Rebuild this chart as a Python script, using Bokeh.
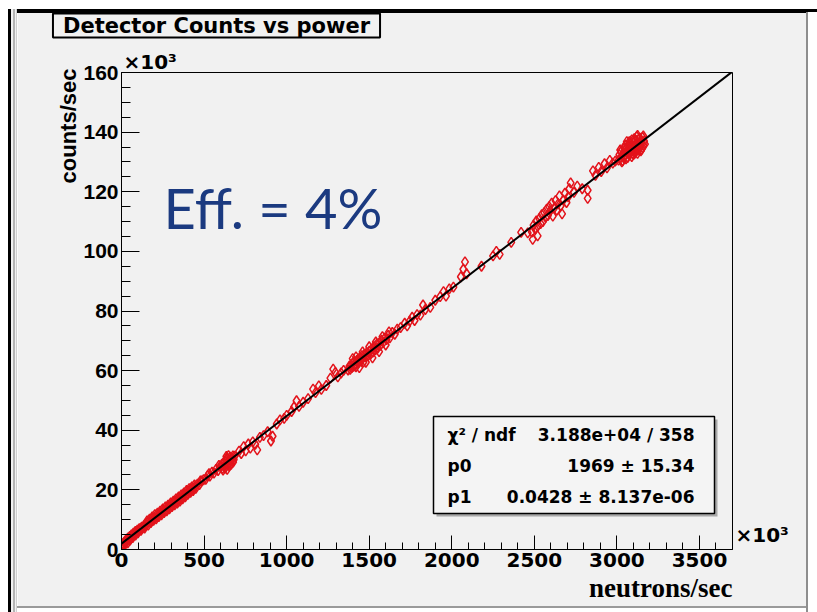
import numpy as np
from bokeh.plotting import figure
from bokeh.models import Label, BoxAnnotation, FixedTicker, Title, Div
from bokeh.layouts import row, column
from bokeh.embed import file_html
from bokeh.resources import INLINE

# ---------------- data (units of 10^3) ----------------
neutrons_A = [2, 4, 7, 10, 13, 16, 20, 24, 28, 32, 36, 40, 45, 50, 55, 60, 66, 72, 78, 84,
              90, 96, 102, 108, 115, 122, 128, 135, 142, 148, 5, 12, 25, 38, 52, 68, 85, 100, 118, 140]
counts_A = [0.4, 0.9, 1.2, 1.9, 1.6, 2.5, 2.1, 3.0, 2.7, 3.5, 3.1, 3.9, 3.6, 4.4, 4.1, 4.9, 4.6, 5.5, 5.2, 6.1,
            5.8, 6.5, 6.2, 7.0, 6.8, 7.5, 7.3, 8.0, 7.8, 8.4, 0.2, 1.1, 2.0, 2.2, 3.2, 4.0, 4.8, 5.6, 6.4, 7.2]

neutrons_B = [155, 162, 170, 178, 186, 194, 202, 210, 218, 226, 234, 242, 250, 258, 266, 274, 282, 290, 298,
              306, 314, 322, 330, 338, 346, 354, 362, 370, 378, 386, 394, 402, 410, 418, 426, 434, 442, 450,
              158, 174, 190, 206, 222, 238, 254, 270, 286, 302, 318, 334, 350, 366, 382, 398, 414, 430, 446]
counts_B = [9.6, 8.2, 10.2, 9.0, 10.9, 9.8, 11.7, 10.3, 12.2, 11.0, 12.9, 11.6, 13.6, 12.4, 14.3, 13.0, 14.9, 13.6, 15.6,
            14.4, 16.2, 15.0, 17.0, 15.6, 17.6, 16.2, 18.3, 17.0, 19.0, 17.7, 19.8, 18.5, 20.4, 19.2, 21.0, 19.8, 21.7, 20.5,
            8.9, 9.3, 10.2, 10.7, 11.6, 12.1, 12.9, 13.4, 14.3, 14.8, 15.7, 16.2, 17.1, 17.5, 18.4, 18.9, 19.8, 20.3, 21.2]

neutrons_C = [460, 472, 485, 497, 510, 522, 535, 548, 560, 572, 585, 597, 478, 530, 590]
counts_C = [21.9, 21.8, 23.0, 23.4, 23.5, 24.8, 24.6, 25.9, 25.6, 26.9, 26.5, 27.9, 23.0, 25.4, 28.2]

neutrons_D = [603, 608, 612, 617, 621, 626, 630, 634, 638, 643, 647, 651, 656, 660, 665, 670, 675, 680, 685,
              615, 628, 640, 652, 664, 676, 635, 648]
counts_D = [27.8, 28.6, 27.2, 29.0, 28.0, 29.6, 28.4, 30.2, 29.1, 30.5, 28.7, 30.0, 29.3, 31.0, 29.8, 30.6, 31.4, 30.2, 31.3,
            26.6, 27.3, 26.9, 28.1, 28.6, 29.3, 31.2, 31.5]

neutrons_E = [712, 725, 740, 752, 768, 780, 795, 810, 822, 838, 860, 885, 905, 915, 940, 960, 985, 1000]
counts_E = [33.0, 32.2, 34.5, 33.1, 35.4, 34.0, 36.1, 35.3, 33.4, 37.6, 38.2, 39.5, 36.4, 38.0, 42.1, 43.5, 44.0, 45.0]

neutrons_F = [1030, 1045, 1060, 1075, 1100, 1130, 1160, 1175, 1195, 1210, 1240, 1265, 1282, 1295, 1310, 1330, 1345]
counts_F = [46.3, 47.8, 49.9, 48.0, 49.4, 50.6, 53.8, 52.6, 54.9, 53.7, 55.0, 57.5, 60.5, 59.4, 57.9, 59.2, 60.1]

neutrons_G = [1372, 1380, 1385, 1390, 1395, 1400, 1405, 1410, 1415, 1420, 1425, 1430, 1435, 1440, 1445, 1450,
              1455, 1460, 1465, 1470, 1478, 1485, 1492, 1500, 1508, 1515, 1522, 1530, 1538, 1545, 1552, 1560,
              1568, 1575, 1585, 1595, 1605, 1615, 1625, 1640, 1655, 1670, 1690,
              1400, 1420, 1440, 1460, 1480, 1500, 1520, 1540, 1560, 1580, 1600, 1620]
counts_G = [60.2, 61.5, 60.4, 62.0, 61.0, 62.6, 61.4, 63.0, 62.0, 61.3, 63.4, 62.5, 63.9, 62.9, 64.4, 63.3,
            65.0, 64.0, 62.9, 65.4, 64.6, 66.0, 65.0, 66.5, 65.5, 67.3, 66.2, 68.0, 67.0, 68.8, 67.6, 69.2,
            68.5, 70.2, 69.4, 71.0, 70.4, 71.8, 71.0, 72.8, 72.2, 73.9, 74.4,
            64.0, 64.6, 61.0, 66.3, 62.8, 68.0, 64.3, 69.6, 66.4, 71.4, 68.6, 73.0]

neutrons_H = [1715, 1730, 1745, 1760, 1775, 1790, 1810, 1826, 1840, 1870, 1900, 1930, 1950, 1965, 1985, 2010]
counts_H = [75.9, 75.0, 76.6, 77.9, 76.8, 78.8, 78.6, 82.0, 80.5, 81.2, 83.6, 84.8, 86.5, 85.0, 87.4, 88.0]

neutrons_I = [2055, 2070, 2080, 2090, 2180, 2250, 2270, 2290, 2360, 2420, 2460]
counts_I = [91.5, 94.0, 96.5, 92.5, 95.0, 98.5, 100.0, 99.0, 103.0, 106.4, 106.2]

neutrons_J = [2485, 2495, 2505, 2512, 2520, 2530, 2538, 2545, 2552, 2560, 2568, 2575, 2582, 2590, 2597, 2605,
              2612, 2620, 2628, 2636, 2645, 2652, 2660, 2668, 2676, 2685, 2695, 2705, 2720, 2712, 2490, 2520]
counts_J = [106.5, 108.8, 107.5, 110.2, 108.4, 111.0, 109.3, 112.3, 110.0, 113.0, 111.4, 114.2, 112.0, 115.0, 113.6, 116.2,
            111.8, 114.5, 117.0, 113.8, 116.0, 118.6, 115.3, 112.6, 117.2, 119.5, 116.4, 118.3, 123.0, 121.0, 104.0, 105.2]

neutrons_K = [2740, 2760, 2790, 2823, 2823, 2855, 2870, 2890, 2905, 2925, 2940, 2957, 2975, 2990]
counts_K = [119.8, 121.9, 121.0, 117.8, 120.5, 127.0, 125.5, 128.2, 126.8, 129.4, 128.0, 130.5, 129.6, 130.3]

neutrons_L = [3010, 3015, 3020, 3025, 3030, 3035, 3040, 3045, 3050, 3055, 3060, 3065, 3070, 3075, 3080, 3085,
              3090, 3095, 3100, 3105, 3110, 3115, 3120, 3125, 3130, 3135, 3140, 3145, 3150, 3155, 3160, 3165,
              3040, 3070, 3100, 3130, 3060, 3090, 3120, 3150,
              3020, 3030, 3045, 3055, 3065, 3075, 3085, 3095, 3105, 3110, 3120, 3125, 3135, 3140, 3145, 3155,
              3160, 3170, 3050, 3080]
counts_L = [130.6, 132.4, 131.2, 133.5, 131.9, 130.4, 133.0, 134.6, 132.2, 131.0, 133.8, 135.3, 132.6, 134.2, 136.0, 133.1,
            131.8, 134.9, 136.6, 133.6, 135.5, 137.3, 134.4, 132.9, 136.1, 137.9, 135.0, 133.7, 136.7, 138.2, 135.6, 137.0,
            131.5, 135.8, 132.5, 134.0, 136.8, 137.4, 138.5, 134.2,
            134.0, 130.0, 132.0, 134.5, 131.5, 136.8, 135.0, 132.8, 137.8, 133.0, 136.0, 138.9, 135.6, 138.0, 136.2, 134.8,
            138.7, 136.0, 135.5, 133.4]

neutrons = (neutrons_A + neutrons_B + neutrons_C + neutrons_D + neutrons_E + neutrons_F +
            neutrons_G + neutrons_H + neutrons_I + neutrons_J + neutrons_K + neutrons_L)
counts = (counts_A + counts_B + counts_C + counts_D + counts_E + counts_F +
          counts_G + counts_H + counts_I + counts_J + counts_K + counts_L)

# fit parameters (from the stats box)
fit_p0 = 1969.0
fit_p1 = 0.0428
fit_x = [0.0, 3700.0]
fit_y = [(fit_p0 + fit_p1 * v * 1000.0) / 1000.0 for v in fit_x]

x_ticks = [0, 500, 1000, 1500, 2000, 2500, 3000, 3500]
x_minor = list(range(0, 3701, 100))
y_ticks = [0, 20, 40, 60, 80, 100, 120, 140, 160]
y_minor = list(range(0, 161, 5))

title_text = "Detector Counts vs power"
x_title = "neutrons/sec"
y_title = "counts/sec"
exp_text = "\u00d710\u00b3"
eff_text = "Eff. = 4%"
stats_names = ["\u03c7\u00b2 / ndf", "p0", "p1"]
stats_values = ["3.188e+04 / 358", "1969 \u00b1 15.34", "0.0428 \u00b1 8.137e-06"]

X_MAX, Y_MAX = 3700, 160

# ---------------- layout geometry (page pixels) ----------------
W, H = 817, 612
OX = 17                      # left slide-margin strip
RX = 11                      # right canvas-bevel strip
BY = 6                       # bottom canvas-bevel strip
FL, FR, FT, FB = 121, 732, 72, 549
PW = W - OX - RX             # figure width
PH = H - BY                  # figure height


def fx(px):
    return (px - FL) / (FR - FL) * X_MAX


def fy(py):
    return (FB - py) / (FB - FT) * Y_MAX


BG = "#f1f1f1"

p = figure(width=PW, height=PH, x_range=(0, X_MAX), y_range=(0, Y_MAX),
           output_backend="svg", toolbar_location=None,
           min_border_left=FL - OX, min_border_right=(W - RX) - FR,
           min_border_top=FT, min_border_bottom=PH - FB)
p.background_fill_color = BG
p.border_fill_color = BG
p.outline_line_color = "black"
p.outline_line_width = 1
p.xgrid.visible = False
p.ygrid.visible = False

for ax, ticks, minor, tin, font, fsize in ((p.xaxis[0], x_ticks, x_minor, 14, "DejaVu Sans", "20px"),
                                            (p.yaxis[0], y_ticks, y_minor, 18, "Liberation Sans", "21px")):
    ax.ticker = FixedTicker(ticks=ticks, minor_ticks=minor)
    ax.major_tick_in = tin
    ax.major_tick_out = 0
    ax.minor_tick_in = tin // 2
    ax.minor_tick_out = 0
    ax.axis_line_color = "black"
    ax.major_tick_line_color = "black"
    ax.minor_tick_line_color = "black"
    ax.major_label_text_font = font
    ax.major_label_text_font_style = "bold"
    ax.major_label_text_font_size = fsize
    ax.major_label_text_color = "black"
p.xaxis.major_label_standoff = 3
p.yaxis.major_label_standoff = 3

# y axis title at the top end of the axis
p.add_layout(Title(text=y_title, align="right", text_font="Liberation Sans",
                   text_font_size="22px", text_font_style="bold", text_color="black",
                   standoff=0, offset=-4), "left")

# data
p.scatter(neutrons, counts, marker="diamond", size=10, fill_alpha=0,
          line_color="#e3131b", line_width=1.5)
p.line(fit_x, fit_y, line_color="black", line_width=2)


def box(l, r, t, b, fill, line=None, lw=1):
    bx = BoxAnnotation(left=fx(l), right=fx(r), top=fy(t), bottom=fy(b),
                       fill_color=fill, fill_alpha=1.0,
                       line_color=line, line_width=lw, line_alpha=1.0 if line else 0.0)
    p.add_layout(bx)


def label(px, py, text, font="DejaVu Sans", size="19px", style="bold", color="black",
          align="left", baseline="middle"):
    lb = Label(x=fx(px), y=fy(py), text=text, text_font=font, text_font_size=size,
               text_font_style=style, text_color=color, text_align=align,
               text_baseline=baseline)
    p.add_layout(lb)


def side_label(side, px, py, text, font="DejaVu Sans", size="19px", style="bold",
               align="left", baseline="middle", **kw):
    lb = Label(x=px - OX, y=py, x_units="canvas", y_units="canvas", text=text,
               text_font=font, text_font_size=size, text_font_style=style,
               text_color="black", text_align=align, text_baseline=baseline, **kw)
    p.add_layout(lb, side)
    return lb


def top_strip(l, r, t, b, fill):
    # horizontal filled strip above the frame (padded background of a blank label)
    w, h = r - l, b - t
    lb = Label(x=(l + r) / 2 - OX, y=(t + b) / 2, x_units="canvas", y_units="canvas", text=" ",
               text_font_size="1px", text_align="center", text_baseline="middle",
               background_fill_color=fill, border_line_alpha=0.0,
               padding=dict(left=int(w // 2), right=int(w - w // 2),
                            top=int(h // 2), bottom=int(h - h // 2)))
    p.add_layout(lb, "above")


# stats box (inside the frame)
box(436, 717, 419, 516, "#a8a8a8")
box(433, 714, 416, 513, "#f4f4f4", line="black", lw=1.5)
rows_y = [434, 465, 496]
for ry, nm, val in zip(rows_y, stats_names, stats_values):
    label(447, ry, nm, size="17px")
    label(694, ry, val, size="17px", align="right")

# efficiency annotation
label(163, 207, eff_text, font="Lato", size="56px", style="normal", color="#1b3a80")

# top slide margin and black rule
top_strip(0, 834, 0, 9, "white")
top_strip(0, 834, 9, 12, "black")

# texts outside the frame
side_label("above", 123, 61, exp_text, size="20px")
side_label("above", 216, 25, title_text, size="21px", align="center",
           background_fill_color=BG, border_line_color="black", border_line_width=2,
           padding=dict(left=10, right=10, top=0, bottom=0))
side_label("right", 735, 534, exp_text, size="20px")
side_label("below", 732, 587, x_title, font="Liberation Serif", size="27px", align="right")

# slide margins and canvas bevel (page decorations)
left_strip = Div(text="", width=OX, height=H, margin=0,
                 styles={"background": "linear-gradient(to bottom, white 0px, white 9px, transparent 9px), "
                                       "linear-gradient(to right, white 0px, white 8px, black 8px, black 11px, "
                                       "#f1f1f1 11px, #f1f1f1 13px, #b4b4b4 13px, #b4b4b4 15px, "
                                       "#f1f1f1 15px, #f1f1f1 16px, #d0d0d0 16px, #d0d0d0 17px)"})
right_strip = Div(text="", width=RX, height=H, margin=0,
                  styles={"background": "linear-gradient(to bottom, white 0px, white 9px, black 9px, "
                                        "black 12px, transparent 12px), "
                                        "linear-gradient(to right, #8e8e8e 0px, #8e8e8e 2px, white 2px, white 11px)"})
bottom_strip = Div(text="", width=PW, height=BY, margin=0,
                   styles={"background": "linear-gradient(to bottom, #9a9a9a 0px, #9a9a9a 2px, white 2px, white 6px)"})
page = row(left_strip, column(p, bottom_strip, spacing=0), right_strip, spacing=0)

open("out.html", "w").write(file_html(page, INLINE))
